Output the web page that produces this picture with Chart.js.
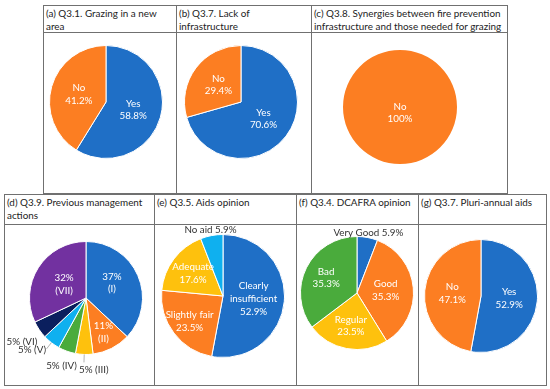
<!DOCTYPE html>
<html>
<head>
<meta charset="utf-8">
<script src="https://cdn.jsdelivr.net/npm/chart.js@4"></script>
<style>
  body { margin: 0; background: #fff; width: 550px; height: 389px; overflow: hidden; position: relative; font-family: Lato, sans-serif; }
  .ln { position: absolute; background: #707070; }
  .hd { position: absolute; font-size: 9.9px; line-height: 12.6px; color: #222; white-space: nowrap; }
  canvas { position: absolute; }
</style>
</head>
<body>
<script>
// data
const aLabels = ['Yes', 'No'];
const aValues = [58.8, 41.2];
const bLabels = ['Yes', 'No'];
const bValues = [70.6, 29.4];
const cLabels = ['No'];
const cValues = [100];
const dLabels = ['I', 'II', 'III', 'IV', 'V', 'VI', 'VII'];
const dValues = [37, 11, 5, 5, 5, 5, 32];
const eLabels = ['Clearly\ninsufficient', 'Slightly fair', 'Adequate', 'No aid'];
const eValues = [52.9, 23.5, 17.6, 5.9];
const fLabels = ['Very Good', 'Good', 'Regular', 'Bad'];
const fValues = [5.9, 35.3, 23.5, 35.3];
const gLabels = ['Yes', 'No'];
const gValues = [52.9, 47.1];

const titles = {
  a: '(a) Q3.1. Grazing in a new<br>area',
  b: '(b) Q3.7. Lack of<br>infrastructure',
  c: '(c) Q3.8. Synergies between fire prevention<br>infrastructure and those needed for grazing',
  d: '(d) Q3.9. Previous management<br>actions',
  e: '(e) Q3.5. Aids opinion',
  f: '(f) Q3.4. DCAFRA opinion',
  g: '(g) Q3.7. Pluri-annual aids'
};

const BLUE = '#1f6fc6', ORANGE = '#fc7e22', GOLD = '#fec10d', GREEN = '#4aab3c',
      SKY = '#0fb0ef', NAVY = '#0b1f5e', PURPLE = '#7231a0';

function line(x, y, w, h) {
  const d = document.createElement('div');
  d.className = 'ln';
  d.style.cssText = `left:${x}px;top:${y}px;width:${w}px;height:${h}px`;
  document.body.appendChild(d);
}
function header(x, y, html) {
  const d = document.createElement('div');
  d.className = 'hd';
  d.style.cssText = `left:${x + 3}px;top:${y + 2}px`;
  d.innerHTML = html;
  document.body.appendChild(d);
}

// table frames
function table(cols, top, mid, bottom) {
  const x0 = cols[0], x1 = cols[cols.length - 1];
  line(x0, top, x1 - x0 + 1, 1);
  line(x0, mid, x1 - x0 + 1, 1);
  line(x0, bottom, x1 - x0 + 1, 1);
  cols.forEach(x => line(x, top, 1, bottom - top + 1));
}
table([43, 176, 311, 507], 5, 32, 193);
table([4, 154, 296, 418, 546], 194, 224, 385);

const labelPlugin = {
  id: 'pieLabels',
  afterDatasetsDraw(chart, args, o) {
    const ctx = chart.ctx;
    const meta = chart.getDatasetMeta(0);
    const ds = chart.data.datasets[0];
    ctx.save();
    ctx.font = '9.8px Lato';
    ctx.textAlign = 'center';
    ctx.textBaseline = 'middle';
    meta.data.forEach((arc, i) => {
      const p = arc.getProps(['x', 'y', 'startAngle', 'endAngle', 'outerRadius'], true);
      const mid = (p.startAngle + p.endAngle) / 2;
      const k = o.dist[i];
      const sh = (o.shift && o.shift[i]) || [0, 0];
      const cx = p.x + Math.cos(mid) * p.outerRadius * k + sh[0];
      const cy = p.y + Math.sin(mid) * p.outerRadius * k + sh[1];
      const lines = o.format(chart.data.labels[i], ds.data[i], i);
      const outside = k > 1;
      if (o.leader && o.leader[i]) {
        ctx.strokeStyle = '#a0a0a0';
        ctx.lineWidth = 0.8;
        ctx.beginPath();
        ctx.moveTo(p.x + Math.cos(mid) * p.outerRadius, p.y + Math.sin(mid) * p.outerRadius);
        ctx.lineTo(p.x + Math.cos(mid) * p.outerRadius * 1.14, p.y + Math.sin(mid) * p.outerRadius * 1.14);
        ctx.stroke();
      }
      ctx.fillStyle = outside ? '#333' : '#fff';
      const lh = 12.6;
      lines.forEach((t, j) => ctx.fillText(t, cx, cy + (j - (lines.length - 1) / 2) * lh));
    });
    ctx.restore();
  }
};

const twoLine = (l, v) => [...l.split('\n'), v + '%'];

function pie(cell, pieGeo, labels, values, colors, lab) {
  const [x0, y0, x1, y1] = cell;
  const [cx, cy, r] = pieGeo;
  const c = document.createElement('canvas');
  c.style.left = x0 + 1 + 'px';
  c.style.top = y0 + 1 + 'px';
  c.width = x1 - x0 - 1;
  c.height = y1 - y0 - 1;
  document.body.appendChild(c);
  const ox = x0 + 1, oy = y0 + 1;
  new Chart(c, {
    type: 'pie',
    data: {
      labels: labels,
      datasets: [{ data: values, backgroundColor: colors, borderColor: '#fff', borderWidth: values.length > 1 ? 1 : 0 }]
    },
    options: {
      responsive: false,
      animation: false,
      layout: {
        padding: {
          left: cx - r - ox,
          right: x1 - (cx + r),
          top: cy - r - oy,
          bottom: y1 - (cy + r)
        }
      },
      plugins: { legend: { display: false }, tooltip: { enabled: false }, pieLabels: lab }
    },
    plugins: [labelPlugin]
  });
}

header(43, 5, titles.a);
header(176, 5, titles.b);
header(311, 5, titles.c);
header(4, 194, titles.d);
header(154, 194, titles.e);
header(296, 194, titles.f);
header(418, 194, titles.g);

pie([43, 32, 176, 193], [106, 102, 57], aLabels, aValues, [BLUE, ORANGE],
  { dist: [0.5, 0.5], format: twoLine });
pie([176, 32, 311, 193], [241, 102, 57], bLabels, bValues, [BLUE, ORANGE],
  { dist: [0.5, 0.5], format: twoLine });
pie([311, 32, 507, 193], [400, 107, 57], cLabels, cValues, [ORANGE],
  { dist: [0.1], format: twoLine });

pie([4, 224, 154, 385], [86, 298, 57], dLabels, dValues, [BLUE, ORANGE, GOLD, GREEN, SKY, NAVY, PURPLE],
  { dist: [0.5, 0.68, 1.27, 1.28, 1.3, 1.37, 0.46],
    shift: [[0, -4], null, [10, 0], null, [-9, -6], null, [0, 0]],
    leader: [false, false, true, false, true, false, false],
    format: (l, v, i) => (v < 10 ? [v + '% (' + l + ')'] : [v + '%', '(' + l + ')']) });
pie([154, 224, 296, 385], [223, 296, 62], eLabels, eValues, [BLUE, ORANGE, GOLD, SKY],
  { dist: [0.5, 0.68, 0.61, 1.1],
    format: (l, v) => (v < 10 ? [l + ' ' + v + '%'] : twoLine(l, v)) });
pie([296, 224, 418, 385], [357, 293, 57], fLabels, fValues, [BLUE, ORANGE, GOLD, GREEN],
  { dist: [1.09, 0.51, 0.59, 0.61],
    format: (l, v) => (v < 10 ? [l + ' ' + v + '%'] : twoLine(l, v)) });
pie([418, 224, 546, 385], [481, 296, 57], gLabels, gValues, [BLUE, ORANGE],
  { dist: [0.5, 0.51], format: twoLine });
</script>
</body>
</html>
